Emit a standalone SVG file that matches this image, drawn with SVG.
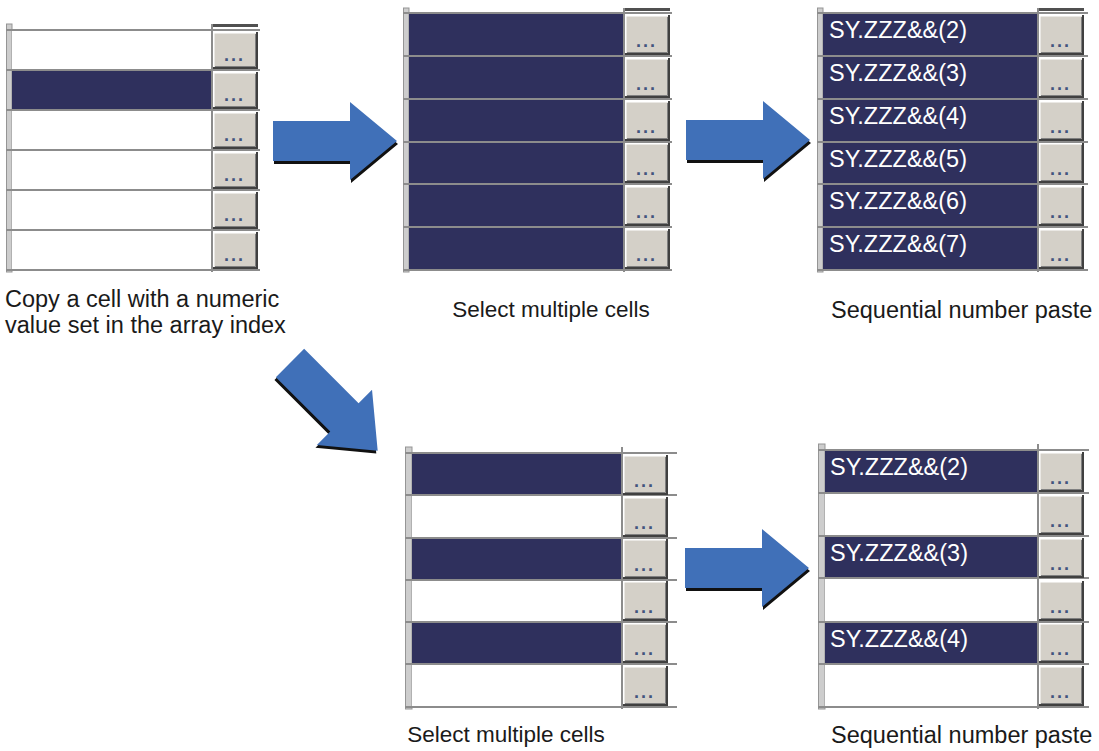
<svg xmlns="http://www.w3.org/2000/svg" xmlns:xlink="http://www.w3.org/1999/xlink" width="1099" height="751" viewBox="0 0 1099 751">
<style>
.bar{fill:#cdcdcd;stroke:#959595;stroke-width:1}
.w{fill:#ffffff}
.d{fill:#2f305d}
.gl{stroke:#8c8c8c;stroke-width:2;fill:none}
.bf{fill:#d4d0c8}
.hl{stroke:#ffffff;stroke-width:1.5;fill:none}
.sh{stroke:#404040;stroke-width:2;fill:none}
.sh2{stroke:#808080;stroke-width:1;fill:none}
.dots{font-family:"Liberation Sans",Arial,sans-serif;font-weight:bold;font-size:18px;fill:#42557e;letter-spacing:2px}
.ct{font-family:"Liberation Sans",Arial,sans-serif;font-size:23.5px;fill:#ffffff}
.cap{font-family:"Liberation Sans",Arial,sans-serif;font-size:23.5px;fill:#1a1a1a}
.cap2{font-family:"Liberation Sans",Arial,sans-serif;font-size:22.5px;fill:#1a1a1a}
.arr{fill:#4070b8}
.ash{fill:#111111}
.stub{fill:#505050}
</style>
<defs>
<g id="b40">
<rect class="bf" x="1" y="2" width="44" height="36"/>
<path class="hl" d="M1.75,37 V2.75 H44"/>
<path class="sh2" d="M3,36.5 H43.5 V4"/>
<path class="sh" d="M1,38 H45 V2"/>
<text class="dots" x="12" y="31">...</text>
</g>
<g id="b43">
<rect class="bf" x="1" y="2" width="44" height="39"/>
<path class="hl" d="M1.75,40 V2.75 H44"/>
<path class="sh2" d="M3,39.5 H43.5 V4"/>
<path class="sh" d="M1,41 H45 V2"/>
<text class="dots" x="12" y="34">...</text>
</g>
<path id="arrow" d="M0,-20 L77,-20 L77,-39 L124,0 L77,39 L77,20 L0,20 Z"/>
</defs>

<g id="panel-copy">
<rect class="bar" x="6.5" y="24" width="5.5" height="248"/>
<rect class="w" x="12" y="30" width="200" height="40"/>
<rect class="d" x="12" y="70" width="200" height="40"/>
<rect class="w" x="12" y="110" width="200" height="160"/>
<rect class="stub" x="213" y="24" width="45" height="3"/>
<path class="gl" d="M6,30 H260 M6,70 H260 M6,110 H260 M6,150 H260 M6,190 H260 M6,230 H260 M6,270 H260 M212,24 V272"/>
<use xlink:href="#b40" x="212" y="30"/>
<use xlink:href="#b40" x="212" y="70"/>
<use xlink:href="#b40" x="212" y="110"/>
<use xlink:href="#b40" x="212" y="150"/>
<use xlink:href="#b40" x="212" y="190"/>
<use xlink:href="#b40" x="212" y="230"/>
<text class="cap" x="5" y="307">Copy a cell with a numeric</text>
<text class="cap" x="5" y="333">value set in the array index</text>
</g>

<g id="panel-select-all">
<rect class="bar" x="403.5" y="8" width="5.5" height="264"/>
<rect class="d" x="409" y="13" width="215" height="257"/>
<rect class="stub" x="625" y="8" width="45" height="3"/>
<path class="gl" d="M403,13 H672 M403,56 H672 M403,99 H672 M403,142 H672 M403,184 H672 M403,227 H672 M403,270 H672 M624,8 V272"/>
<use xlink:href="#b43" x="624" y="13"/>
<use xlink:href="#b43" x="624" y="56"/>
<use xlink:href="#b43" x="624" y="99"/>
<use xlink:href="#b43" x="624" y="141"/>
<use xlink:href="#b43" x="624" y="184"/>
<use xlink:href="#b43" x="624" y="227"/>
<text class="cap2" x="551" y="317" text-anchor="middle">Select multiple cells</text>
</g>

<g id="panel-paste-all">
<rect class="bar" x="817.5" y="8" width="5.5" height="264"/>
<rect class="d" x="823" y="13" width="215" height="257"/>
<rect class="stub" x="1039" y="8" width="45" height="3"/>
<path class="gl" d="M817,13 H1088 M817,56 H1088 M817,99 H1088 M817,142 H1088 M817,184 H1088 M817,227 H1088 M817,270 H1088 M1038,8 V272"/>
<use xlink:href="#b43" x="1038" y="13"/>
<use xlink:href="#b43" x="1038" y="56"/>
<use xlink:href="#b43" x="1038" y="99"/>
<use xlink:href="#b43" x="1038" y="141"/>
<use xlink:href="#b43" x="1038" y="184"/>
<use xlink:href="#b43" x="1038" y="227"/>
<text class="ct" x="829" y="38">SY.ZZZ&amp;&amp;(2)</text>
<text class="ct" x="829" y="81">SY.ZZZ&amp;&amp;(3)</text>
<text class="ct" x="829" y="124">SY.ZZZ&amp;&amp;(4)</text>
<text class="ct" x="829" y="167">SY.ZZZ&amp;&amp;(5)</text>
<text class="ct" x="829" y="209">SY.ZZZ&amp;&amp;(6)</text>
<text class="ct" x="829" y="252">SY.ZZZ&amp;&amp;(7)</text>
<text class="cap" x="831" y="318">Sequential number paste</text>
</g>

<g id="panel-select-alt">
<rect class="bar" x="405.5" y="447" width="6.5" height="262"/>
<rect class="d" x="412" y="453" width="210" height="42"/>
<rect class="w" x="412" y="495" width="210" height="43"/>
<rect class="d" x="412" y="538" width="210" height="42"/>
<rect class="w" x="412" y="580" width="210" height="42"/>
<rect class="d" x="412" y="622" width="210" height="42"/>
<rect class="w" x="412" y="664" width="210" height="43"/>
<path class="gl" d="M405,453 H677 M405,495 H677 M405,538 H677 M405,580 H677 M405,622 H677 M405,664 H677 M405,707 H677 M622,447 V709"/>
<use xlink:href="#b43" x="622" y="453"/>
<use xlink:href="#b43" x="622" y="495"/>
<use xlink:href="#b43" x="622" y="537"/>
<use xlink:href="#b43" x="622" y="579"/>
<use xlink:href="#b43" x="622" y="621"/>
<use xlink:href="#b43" x="622" y="664"/>
<text class="cap2" x="506" y="742" text-anchor="middle">Select multiple cells</text>
</g>

<g id="panel-paste-alt">
<rect class="bar" x="818.5" y="444" width="6.5" height="265"/>
<rect class="d" x="825" y="450" width="213" height="43"/>
<rect class="w" x="825" y="493" width="213" height="43"/>
<rect class="d" x="825" y="536" width="213" height="42"/>
<rect class="w" x="825" y="578" width="213" height="44"/>
<rect class="d" x="825" y="622" width="213" height="42"/>
<rect class="w" x="825" y="664" width="213" height="43"/>
<path class="gl" d="M818,450 H1089 M818,493 H1089 M818,536 H1089 M818,578 H1089 M818,622 H1089 M818,664 H1089 M818,707 H1089 M1038,444 V709"/>
<use xlink:href="#b43" x="1038" y="450"/>
<use xlink:href="#b43" x="1038" y="493"/>
<use xlink:href="#b43" x="1038" y="536"/>
<use xlink:href="#b43" x="1038" y="579"/>
<use xlink:href="#b43" x="1038" y="621"/>
<use xlink:href="#b43" x="1038" y="664"/>
<text class="ct" x="830" y="475">SY.ZZZ&amp;&amp;(2)</text>
<text class="ct" x="830" y="561">SY.ZZZ&amp;&amp;(3)</text>
<text class="ct" x="830" y="647">SY.ZZZ&amp;&amp;(4)</text>
<text class="cap" x="831" y="743">Sequential number paste</text>
</g>

<g id="connectors">
<g transform="translate(273,141)">
<use xlink:href="#arrow" class="ash" x="1" y="3"/>
<use xlink:href="#arrow" class="arr"/>
</g>
<g transform="translate(686,140)">
<use xlink:href="#arrow" class="ash" x="1" y="3"/>
<use xlink:href="#arrow" class="arr"/>
</g>
<g transform="translate(290,363) rotate(45)">
<use xlink:href="#arrow" class="ash" x="1" y="3"/>
<use xlink:href="#arrow" class="arr"/>
</g>
<g transform="translate(685,568)">
<use xlink:href="#arrow" class="ash" x="1" y="3"/>
<use xlink:href="#arrow" class="arr"/>
</g>
</g>
</svg>
